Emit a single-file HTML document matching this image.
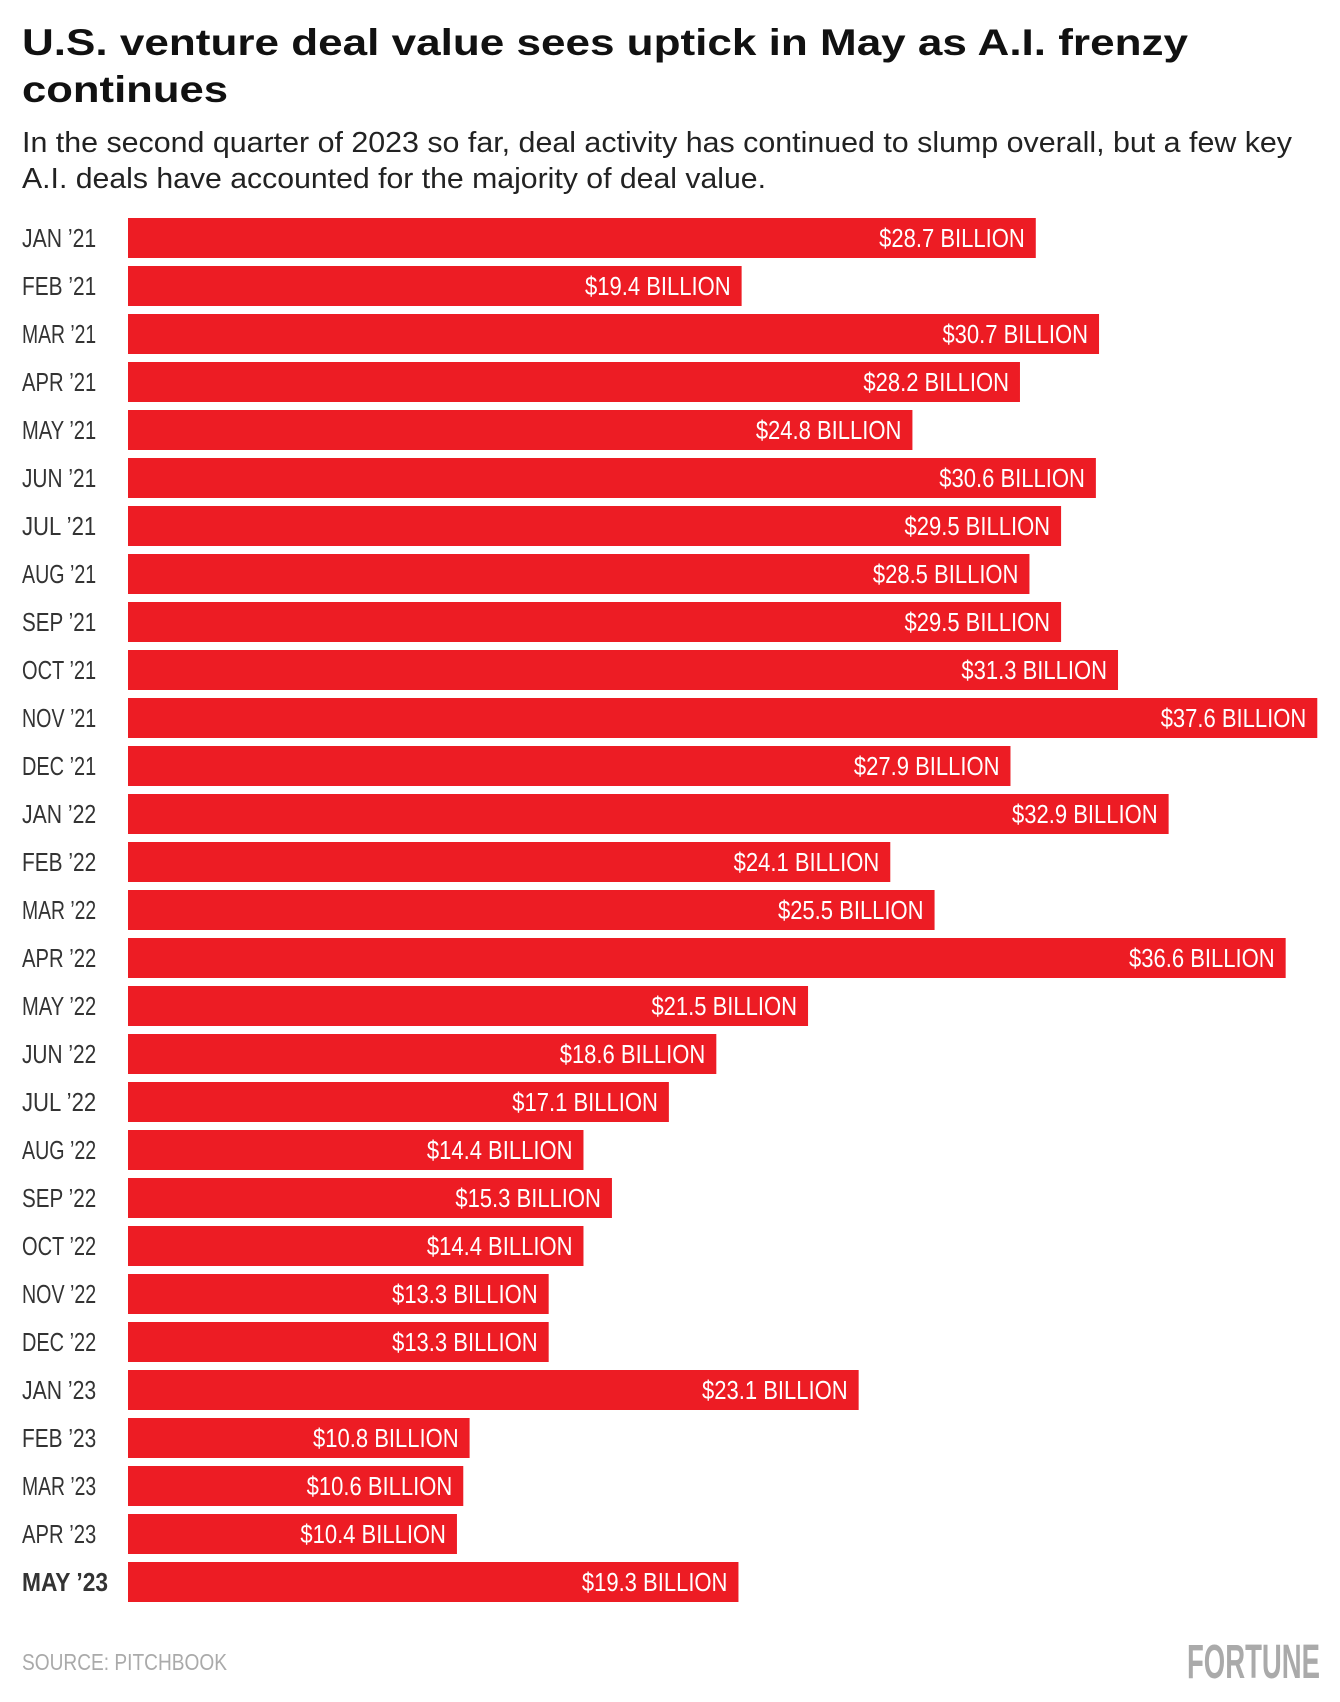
<!DOCTYPE html>
<html><head><meta charset="utf-8"><style>
html,body{margin:0;padding:0;background:#fff;}
svg{display:block;font-family:"Liberation Sans Narrow","Liberation Sans",sans-serif;}
</style></head><body>
<svg id="chart" width="1340" height="1702" viewBox="0 0 1340 1702" xmlns="http://www.w3.org/2000/svg">
<text x="22" y="55" font-size="37" font-weight="bold" fill="#111" textLength="1166" lengthAdjust="spacingAndGlyphs">U.S. venture deal value sees uptick in May as A.I. frenzy</text>
<text x="22" y="102" font-size="37" font-weight="bold" fill="#111" textLength="206" lengthAdjust="spacingAndGlyphs">continues</text>
<text x="22" y="152" font-size="29" fill="#222" textLength="1270" lengthAdjust="spacingAndGlyphs">In the second quarter of 2023 so far, deal activity has continued to slump overall, but a few key</text>
<text x="22" y="188" font-size="29" fill="#222" textLength="744" lengthAdjust="spacingAndGlyphs">A.I. deals have accounted for the majority of deal value.</text>
<g id="bars"></g>
<text x="22" y="1670" font-size="23" fill="#aaa" textLength="205" lengthAdjust="spacingAndGlyphs">SOURCE: PITCHBOOK</text>
<text x="1320" y="1678" text-anchor="end" font-size="48" font-weight="bold" fill="#aaa" textLength="133" lengthAdjust="spacingAndGlyphs">FORTUNE</text>
</svg>
<script>
const months = ["JAN ’21","FEB ’21","MAR ’21","APR ’21","MAY ’21","JUN ’21","JUL ’21","AUG ’21","SEP ’21","OCT ’21","NOV ’21","DEC ’21","JAN ’22","FEB ’22","MAR ’22","APR ’22","MAY ’22","JUN ’22","JUL ’22","AUG ’22","SEP ’22","OCT ’22","NOV ’22","DEC ’22","JAN ’23","FEB ’23","MAR ’23","APR ’23","MAY ’23"];
const values = [28.7,19.4,30.7,28.2,24.8,30.6,29.5,28.5,29.5,31.3,37.6,27.9,32.9,24.1,25.5,36.6,21.5,18.6,17.1,14.4,15.3,14.4,13.3,13.3,23.1,10.8,10.6,10.4,19.3];
const valueLabels = values.map(v => "$" + v.toFixed(1) + " BILLION");

const NS = "http://www.w3.org/2000/svg";
const x0 = 128, pxPerUnit = 31.63, y0 = 218, step = 48, barH = 40;
const xScale = v => v * pxPerUnit;
const yScale = i => y0 + i * step;
const g = document.getElementById("bars");
months.forEach((m, i) => {
  const y = yScale(i);
  const w = xScale(values[i]);
  const last = i === months.length - 1;
  const lab = document.createElementNS(NS, "text");
  lab.setAttribute("x", 22);
  lab.setAttribute("y", y + 29);
  lab.setAttribute("font-size", "26");
  lab.setAttribute("fill", "#333");
  if (last) lab.setAttribute("font-weight", "bold");
  lab.setAttribute("textLength", last ? 86 : m.length * 10.6);
  lab.setAttribute("lengthAdjust", "spacingAndGlyphs");
  lab.textContent = m;
  
  
  g.appendChild(lab);
  const r = document.createElementNS(NS, "rect");
  r.setAttribute("x", x0);
  r.setAttribute("y", y);
  r.setAttribute("width", w);
  r.setAttribute("height", barH);
  r.setAttribute("fill", "#ed1c24");
  
  
  g.appendChild(r);
  const t = document.createElementNS(NS, "text");
  t.setAttribute("x", x0 + w - 11);
  t.setAttribute("y", y + 29);
  t.setAttribute("text-anchor", "end");
  t.setAttribute("font-size", "26");
  t.setAttribute("fill", "#fff");
  t.setAttribute("textLength", valueLabels[i].length * 11.2);
  t.setAttribute("lengthAdjust", "spacingAndGlyphs");
  t.textContent = valueLabels[i];
  
  
  g.appendChild(t);
});
</script>
</body></html>
